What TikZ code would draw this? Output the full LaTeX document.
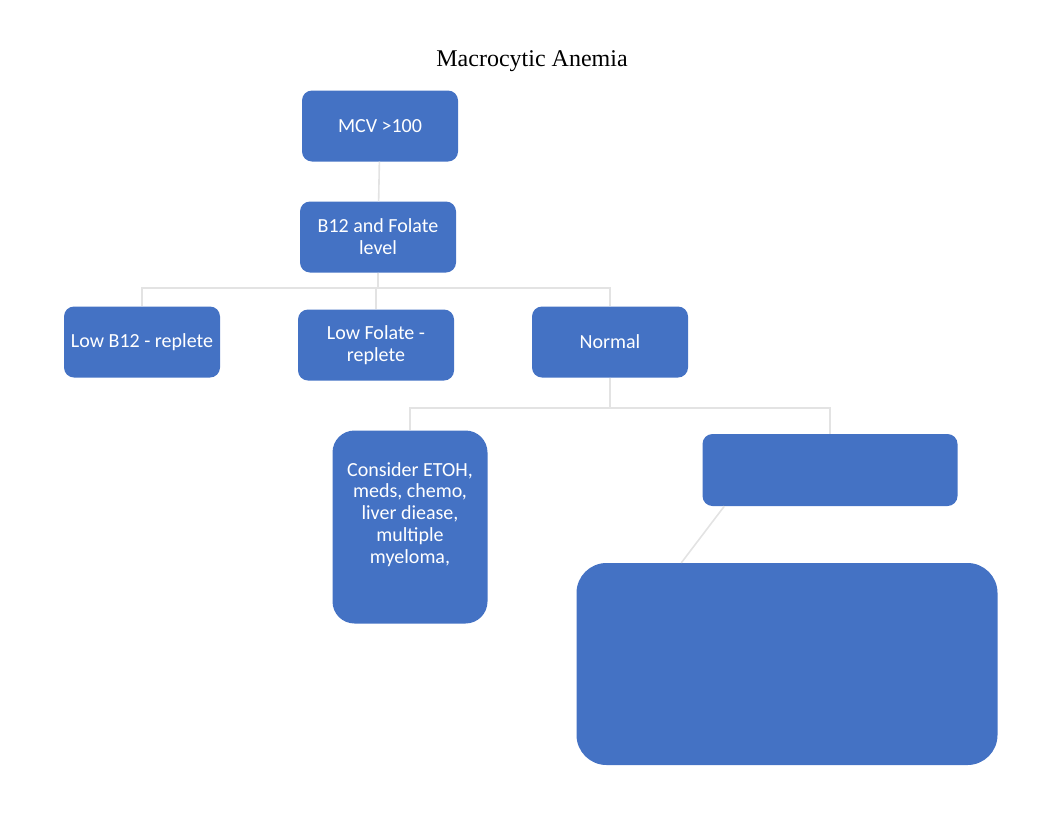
\documentclass[tikz,border=0pt]{standalone}
\usepackage{fontspec}
\setmainfont{Liberation Serif}
\newfontfamily\boxfont{Carlito}
\definecolor{officeblue}{HTML}{4472C4}

\begin{document}
\begin{tikzpicture}[
	x=1pt,
	y=-1pt,
	box/.style={fill=officeblue,text=white,font=\boxfont\fontsize{20}{21.8}\selectfont,
		align=center,rounded corners=10pt,minimum width=156pt,minimum height=71pt,inner sep=2pt},
	bigbox/.style={box,rounded corners=22pt},
	arr/.style={draw=gray!22,line width=1.6pt}
	]
	\useasboundingbox (0,0) rectangle (1062,822);
	\node (title) at (532,61) {\fontsize{24}{28}\selectfont Macrocytic Anemia};
	\node[box] (mcv) at (380,126) {MCV >100};
	\node[box] (lvl) at (378,237) {B12 and Folate\\level};
	\node[box] (lowb) at (142,342) {Low B12 - replete};
	\node[box] (lowf) at (376,345) {Low Folate -\\replete};
	\node[box] (norm) at (610,342) {Normal};
	\node[bigbox,minimum width=155pt,minimum height=193pt] (etoh) at (410,527)
		{Consider ETOH,\\meds, chemo,\\liver diease,\\multiple\\myeloma,\\\strut};
	\node[box,minimum width=255pt,minimum height=72pt] (hidden) at (830,470) {};
	\node[bigbox,rounded corners=30pt,minimum width=421pt,minimum height=202pt] (tests) at (787,664) {};
	\draw[arr] (mcv) to (lvl);
	\draw[arr] (lvl.south) -- ++(0,15) -| (lowb.north);
	\draw[arr] (lvl.south) -- ++(0,15) -| (lowf.north);
	\draw[arr] (lvl.south) -- ++(0,15) -| (norm.north);
	\draw[arr] (norm.south) -- ++(0,30) -| (etoh.north);
	\draw[arr] (norm.south) -- ++(0,30) -| (hidden.north);
	\draw[arr] ([xshift=22pt]hidden.south west) -- ([xshift=105pt]tests.north west);
\end{tikzpicture}
\end{document}
